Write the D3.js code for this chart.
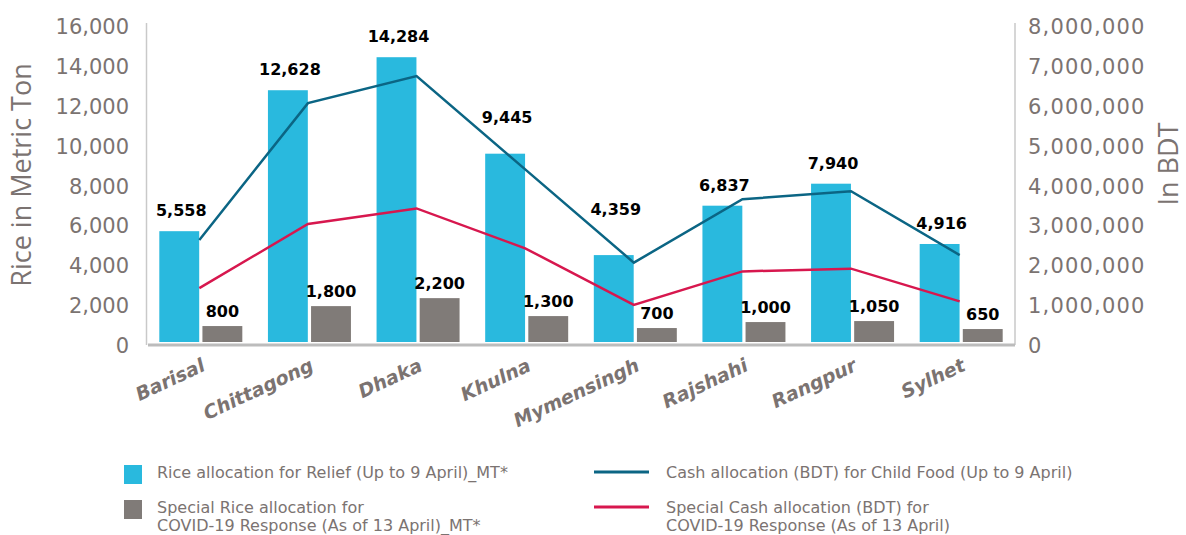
<!DOCTYPE html>
<html>
<head>
<meta charset="utf-8">
<script src="https://cdn.jsdelivr.net/npm/d3@7"></script>
<style>
  body { margin: 0; background: #fff; }
  #chart { display: block; }
</style>
</head>
<body>
<svg id="chart"></svg>
<script>
// division-wise allocations
const divisions = ["Barisal", "Chittagong", "Dhaka", "Khulna", "Mymensingh", "Rajshahi", "Rangpur", "Sylhet"];
const riceRelief = [5558, 12628, 14284, 9445, 4359, 6837, 7940, 4916];
const riceSpecial = [800, 1800, 2200, 1300, 700, 1000, 1050, 650];
const cashChildFood = [2560000, 5990000, 6670000, 4330000, 1990000, 3580000, 3780000, 2180000];
const cashSpecial = [1350000, 2960000, 3350000, 2350000, 930000, 1770000, 1840000, 1020000];

const riceTicks = [0, 2000, 4000, 6000, 8000, 10000, 12000, 14000, 16000];
const cashTicks = [0, 1000000, 2000000, 3000000, 4000000, 5000000, 6000000, 7000000, 8000000];

const legendItems = [
    { kind: "bar", color: "#29b9de", lines: ["Rice allocation for Relief (Up to 9 April)_MT*"] },
    { kind: "bar", color: "#807b78", lines: ["Special Rice allocation for", "COVID-19 Response (As of 13 April)_MT*"] },
    { kind: "line", color: "#0b6584", lines: ["Cash allocation (BDT) for Child Food (Up to 9 April)"] },
    { kind: "line", color: "#d7174e", lines: ["Special Cash allocation (BDT) for", "COVID-19 Response (As of 13 April)"] }
];

class ComboChart {

    constructor() {
        this.width = 1186;
        this.height = 535;
        this.left = 146;
        this.right = 1015;
        this.bottom = 342;
        this.top = 23;

        this.grey = "#7b7371";

        this.svg = d3.select("#chart")
                .attr("width", this.width)
                .attr("height", this.height);

        this.x = d3.scaleBand().domain(divisions).range([this.left, this.right]).padding(0);
        // two bars per division, sitting either side of the band centre
        this.sub = d3.scaleBand().domain(["relief", "special"]).range([-41, 42]).paddingInner(0.075);

        this.yRice = d3.scaleLinear().domain([0, 16000]).range([this.bottom, this.top]);
        this.yCash = d3.scaleLinear().domain([0, 8000000]).range([this.bottom, this.top]);

        // labels that get pushed up so the cash line doesn't run through them
        this.labelLift = { Khulna: 16, Mymensingh: 25 };
    }

    centre(d) {
        return this.x(d) + this.x.bandwidth() / 2;
    }

    draw() {
        const chart = this;
        const svg = this.svg;
        const fmt = d3.format(",");

        // axes
        const leftAxis = svg.append("g")
                .attr("transform", `translate(${this.left},0)`)
                .call(d3.axisLeft(this.yRice).tickValues(riceTicks).tickSize(0).tickPadding(17).tickFormat(fmt));

        const rightAxis = svg.append("g")
                .attr("transform", `translate(${this.right},0)`)
                .call(d3.axisRight(this.yCash).tickValues(cashTicks).tickSize(0).tickPadding(13).tickFormat(fmt));

        [leftAxis, rightAxis].forEach(g => {
            g.select(".domain").remove();
            g.selectAll("text")
                .attr("dy", "0.5em")
                .attr("fill", chart.grey)
                .style("font-family", "DejaVu Sans")
                .style("font-size", "21px");
        });
        rightAxis.selectAll("text").style("letter-spacing", "1.2px");

        svg.append("line")
                .attr("x1", this.left + 0.5).attr("x2", this.left + 0.5)
                .attr("y1", this.top).attr("y2", this.bottom + 3)
                .attr("stroke", "#c9c9c9").attr("stroke-width", 1.5);
        svg.append("line")
                .attr("x1", this.right).attr("x2", this.right)
                .attr("y1", this.top).attr("y2", this.bottom + 3)
                .attr("stroke", "#c9c9c9").attr("stroke-width", 1.5);

        // axis titles
        svg.append("text")
                .attr("transform", `translate(31,175) rotate(-90)`)
                .attr("text-anchor", "middle")
                .attr("fill", this.grey)
                .style("font-family", "Open Sans")
                .style("font-size", "27px")
                .text("Rice in Metric Ton");

        svg.append("text")
                .attr("transform", `translate(1178,164) rotate(-90)`)
                .attr("text-anchor", "middle")
                .attr("fill", this.grey)
                .style("font-family", "Open Sans")
                .style("font-size", "27px")
                .text("In BDT");

        // bars
        const groups = svg.append("g").selectAll("g")
                .data(divisions)
                .enter()
                .append("g")
                .attr("transform", d => `translate(${chart.centre(d)},0)`);

        groups.append("rect")
                .attr("x", chart.sub("relief"))
                .attr("width", chart.sub.bandwidth())
                .attr("y", (d, i) => chart.yRice(riceRelief[i]))
                .attr("height", (d, i) => chart.bottom - chart.yRice(riceRelief[i]))
                .attr("fill", "#29b9de");

        groups.append("rect")
                .attr("x", chart.sub("special"))
                .attr("width", chart.sub.bandwidth())
                .attr("y", (d, i) => chart.yRice(riceSpecial[i]))
                .attr("height", (d, i) => chart.bottom - chart.yRice(riceSpecial[i]))
                .attr("fill", "#807b78");

        // baseline
        svg.append("line")
                .attr("x1", this.left + 2).attr("x2", this.right)
                .attr("y1", this.bottom + 3).attr("y2", this.bottom + 3)
                .attr("stroke", "#bcbcbc").attr("stroke-width", 3);

        // lines on the right axis
        const line = d3.line()
                .x((v, i) => chart.centre(divisions[i]) - 1)
                .y(v => chart.yCash(v));

        svg.append("path")
                .attr("d", line(cashChildFood))
                .attr("fill", "none")
                .attr("stroke", "#0b6584")
                .attr("stroke-width", 2.5);

        svg.append("path")
                .attr("d", line(cashSpecial))
                .attr("fill", "none")
                .attr("stroke", "#d7174e")
                .attr("stroke-width", 2.5);

        // value labels
        groups.append("text")
                .attr("x", chart.sub("relief") + chart.sub.bandwidth() / 2 + 2)
                .attr("y", (d, i) => chart.yRice(riceRelief[i]) - 15 - (chart.labelLift[d] || 0))
                .attr("text-anchor", "middle")
                .style("font-family", "DejaVu Sans")
                .style("font-weight", "bold")
                .style("font-size", "16px")
                .text((d, i) => fmt(riceRelief[i]));

        groups.append("text")
                .attr("x", chart.sub("special") + chart.sub.bandwidth() / 2)
                .attr("y", (d, i) => chart.yRice(riceSpecial[i]) - 9)
                .attr("text-anchor", "middle")
                .style("font-family", "DejaVu Sans")
                .style("font-weight", "bold")
                .style("font-size", "16px")
                .text((d, i) => fmt(riceSpecial[i]));

        // category labels
        svg.append("g").selectAll("text")
                .data(divisions)
                .enter()
                .append("text")
                .attr("transform", d => `translate(${chart.centre(d) + 6},370) rotate(-25)`)
                .attr("text-anchor", "end")
                .attr("fill", this.grey)
                .style("font-family", "DejaVu Sans")
                .style("font-weight", "bold")
                .style("font-style", "italic")
                .style("font-size", "19px")
                .text(d => d);

        this.drawLegend();
    }

    drawLegend() {
        const chart = this;
        const pos = [
            { x: 124, y: 465 }, { x: 124, y: 500 },
            { x: 594, y: 465 }, { x: 594, y: 500 }
        ];

        const items = this.svg.append("g").selectAll("g")
                .data(legendItems)
                .enter()
                .append("g")
                .attr("transform", (d, i) => `translate(${pos[i].x},${pos[i].y})`);

        items.filter(d => d.kind === "bar")
                .append("rect")
                .attr("width", 18).attr("height", 19)
                .attr("fill", d => d.color);

        items.filter(d => d.kind === "line")
                .append("line")
                .attr("x1", 0).attr("x2", 55)
                .attr("y1", 7).attr("y2", 7)
                .attr("stroke", d => d.color)
                .attr("stroke-width", 3);

        items.append("text")
                .attr("fill", chart.grey)
                .style("font-family", "DejaVu Sans")
                .style("font-size", "16px")
                .selectAll("tspan")
                .data(d => d.lines.map((t, j) => ({ t, j, x: d.kind === "bar" ? 33 : 72 })))
                .enter()
                .append("tspan")
                .attr("x", t => t.x)
                .attr("y", t => 13 + t.j * 18)
                .text(t => t.t);
    }
}

const chart = new ComboChart();
chart.draw();
</script>
</body>
</html>
